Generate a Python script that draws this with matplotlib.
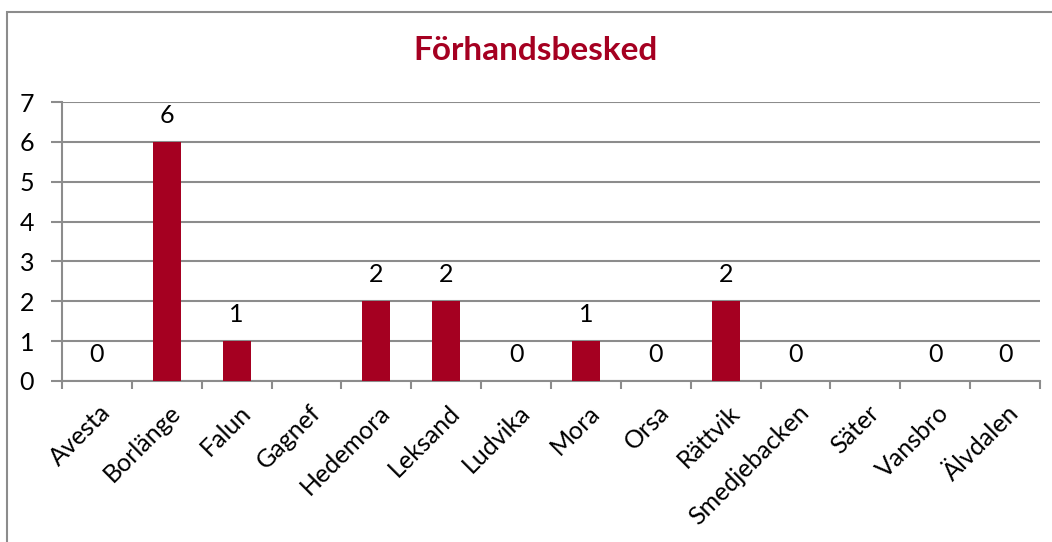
import matplotlib
matplotlib.use("Agg")
import matplotlib.pyplot as plt
import numpy as np
from matplotlib.patches import Rectangle
from matplotlib.transforms import ScaledTranslation

categories = ["Avesta", "Borlänge", "Falun", "Gagnef", "Hedemora", "Leksand", "Ludvika",
              "Mora", "Orsa", "Rättvik", "Smedjebacken", "Säter", "Vansbro", "Älvdalen"]
values = [0, 6, 1, None, 2, 2, 0, 1, 0, 2, 0, None, 0, 0]
title = "Förhandsbesked"
yticks = [0, 1, 2, 3, 4, 5, 6, 7]

bar_color = "#A50021"
grid_color = "#8C8C8C"
fs = 18

plt.rcParams['font.family'] = ['Lato', 'DejaVu Sans']

fig = plt.figure(figsize=(10.52, 5.42), dpi=100)
fig.patch.set_facecolor("white")
fig.patches.append(Rectangle((7/1052, -0.1), 1.2, 1 - 12/542 + 0.1, transform=fig.transFigure,
                             fill=False, edgecolor="#8C8C8C", linewidth=1.5, zorder=0))

ax = fig.add_axes([62/1052, 1 - 381/542, (1040 - 62)/1052, (381 - 102)/542])
x = np.arange(len(categories))
h = [v if v is not None else 0 for v in values]
ax.bar(x, h, width=0.4, color=bar_color, zorder=3)

for xi, v in zip(x, values):
    if v is None:
        continue
    ax.annotate(str(v), (xi, v), xytext=(0, 19), textcoords="offset points",
                ha="center", va="center", fontsize=fs, color="black")

ax.set_xlim(-0.5, len(categories) - 0.5)
ax.set_ylim(0, 7)
ax.set_yticks(yticks)
ax.set_yticklabels([str(t) for t in yticks], fontsize=fs)
ax.set_xticks(np.arange(len(categories) + 1) - 0.5, minor=False)
ax.set_xticklabels([])
ax.set_xticks(x, minor=True)
ax.set_xticklabels(categories, minor=True, rotation=45, ha="right", va="center",
                   rotation_mode="anchor", fontsize=fs)
ax.tick_params(axis="x", which="minor", length=0, pad=20)
ax.tick_params(axis="x", which="major", length=6, width=1.5, color=grid_color, direction="out")
ax.tick_params(axis="y", length=8, width=1.5, color=grid_color, direction="out", pad=12)
for lab in ax.get_xticklabels(minor=True):
    lab.set_transform(lab.get_transform() + ScaledTranslation(10/100, 0, fig.dpi_scale_trans))

ax.grid(axis="y", color=grid_color, linewidth=1.5, zorder=0)
ax.set_axisbelow(True)
for s in ["top", "right"]:
    ax.spines[s].set_visible(False)
for s in ["left", "bottom"]:
    ax.spines[s].set_color(grid_color)
    ax.spines[s].set_linewidth(1.5)

fig.text(535/1052, 1 - 50/542, title, ha="center", va="center", fontsize=24,
         fontweight="bold", color=bar_color)

fig.savefig("out.png", dpi=100, facecolor="white")
